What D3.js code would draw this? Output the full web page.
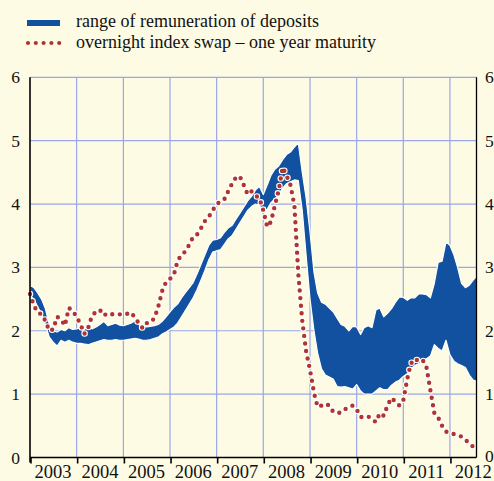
<!DOCTYPE html>
<html>
<head>
<meta charset="utf-8">
<script src="https://cdn.jsdelivr.net/npm/d3@7"></script>
<style>
  body { margin: 0; background: #fdfbe4; }
  svg { display: block; }
</style>
</head>
<body>
<div id="chart"></div>
<script>
// monthly values, first entry = January 2003
const startYear = 2003;
const yearLabels = ['2003', '2004', '2005', '2006', '2007', '2008', '2009', '2010', '2011', '2012'];
const yTicks = [0, 1, 2, 3, 4, 5, 6];

const depositUpper = [
  2.72, 2.68, 2.6, 2.5, 2.35, 2.1, 2.0, 1.98, 2.02, 2.0, 2.05, 2.02,
  2.03, 2.05, 2.02, 2.08, 2.03, 2.06, 2.1, 2.15, 2.08, 2.1, 2.12, 2.09,
  2.08, 2.1, 2.12, 2.16, 2.1, 2.06, 2.06, 2.07, 2.08, 2.1, 2.15, 2.22,
  2.3, 2.37, 2.42, 2.52, 2.6, 2.68, 2.76, 2.9, 3.05, 3.2, 3.35, 3.43,
  3.44, 3.47, 3.55, 3.62, 3.66, 3.76, 3.85, 3.95, 4.05, 4.12, 4.22, 4.28,
  4.15, 4.3, 4.45, 4.55, 4.6, 4.7, 4.78, 4.82, 4.9, 4.97, 4.5, 4.1,
  3.55, 2.92, 2.6, 2.45, 2.42, 2.36, 2.3, 2.2, 2.1, 2.07, 2.0, 2.07,
  2.06, 1.94, 2.05, 2.08, 2.05, 2.33, 2.36, 2.22, 2.28, 2.35, 2.45, 2.53,
  2.53, 2.48, 2.52, 2.52, 2.58, 2.58, 2.57, 2.52, 2.75, 3.08, 3.1, 3.4,
  3.35, 3.2, 3.0, 2.75, 2.68, 2.72, 2.8, 2.87
];

const depositLower = [
  2.55, 2.5, 2.38, 2.27, 2.1, 1.9, 1.82, 1.76, 1.85, 1.82, 1.85, 1.82,
  1.8, 1.8, 1.79, 1.78, 1.8, 1.82, 1.84, 1.86, 1.85, 1.85, 1.86, 1.85,
  1.85, 1.86, 1.87, 1.88, 1.87, 1.85, 1.85, 1.86, 1.88, 1.9, 1.95, 1.98,
  2.02, 2.06, 2.12, 2.22, 2.32, 2.42, 2.52, 2.65, 2.8, 2.95, 3.12, 3.24,
  3.26, 3.28, 3.36, 3.45, 3.5, 3.6, 3.7, 3.8, 3.9, 3.96, 4.0, 3.98,
  3.87, 3.92, 4.02, 4.08, 4.15, 4.25, 4.32, 4.35, 4.38, 4.37, 3.9, 3.2,
  2.5, 2.0, 1.65, 1.4, 1.3, 1.27, 1.24, 1.12, 1.11, 1.12, 1.1, 1.08,
  1.15, 1.05, 1.0, 1.0, 1.0, 1.05, 1.1, 1.07, 1.07, 1.14, 1.19, 1.22,
  1.28, 1.32, 1.4, 1.45, 1.48, 1.52, 1.56, 1.6, 1.78, 1.72, 1.68, 1.85,
  1.62, 1.52, 1.48, 1.45, 1.42, 1.3, 1.22, 1.2
];

const oisOneYear = [
  2.58, 2.4, 2.29, 2.26, 2.16, 2.0, 2.02, 2.22, 2.18, 2.08, 2.36, 2.32,
  2.22, 2.1, 1.95, 2.05, 2.24, 2.3, 2.33, 2.24, 2.28, 2.26, 2.26, 2.26,
  2.25, 2.27, 2.29, 2.21, 2.12, 2.04, 2.12, 2.13, 2.2, 2.38, 2.63, 2.77,
  2.82, 2.89, 3.1, 3.2, 3.25, 3.36, 3.48, 3.52, 3.62, 3.73, 3.8, 3.9,
  4.0, 4.04, 4.07, 4.2, 4.32, 4.42, 4.44, 4.3, 4.15, 4.2, 4.13, 4.1,
  3.9, 3.64, 3.72, 3.98, 4.22, 4.58, 4.45, 4.3, 3.97, 2.9, 2.16, 1.68,
  1.38, 1.02, 0.8, 0.82, 0.85, 0.82, 0.72, 0.7, 0.71, 0.76, 0.8, 0.82,
  0.76, 0.64, 0.64, 0.65, 0.6, 0.56, 0.7, 0.66, 0.83, 0.94, 0.88, 0.82,
  0.9, 1.24, 1.48, 1.56, 1.52, 1.54, 1.43, 1.06, 0.7, 0.63, 0.5, 0.41,
  0.38, 0.37, 0.35, 0.33, 0.28, 0.22, 0.17
];

const legendLabels = ['range of remuneration of deposits', 'overnight index swap \u2013 one year maturity'];

const width = 494;
const height = 481;
const bg = '#fdfbe4';
const blue = '#11519f';
const red = '#b03530';
const grid = '#9aa6e8';
const font = 'Liberation Serif, Times New Roman, DejaVu Serif, serif';

const monthDate = (i) => new Date(startYear, i, 1);

const x = d3.scaleTime()
  .domain([new Date(2003, 0, 1), new Date(2012, 6, 27)])
  .range([30, 476.5]);
const y = d3.scaleLinear().domain([0, 6]).range([457.5, 77.3]);

const svg = d3.select('#chart')
  .append('svg')
  .attr('width', width)
  .attr('height', height)
  .attr('font-family', font);

svg.append('rect').attr('width', width).attr('height', height).attr('fill', bg);

svg.append('clipPath').attr('id', 'plot')
  .append('rect')
  .attr('x', x.range()[0]).attr('y', y(6))
  .attr('width', x.range()[1] - x.range()[0])
  .attr('height', y(0) - y(6));

// grid
const years = yearLabels.map((d) => new Date(+d, 0, 1));
svg.append('g').selectAll('line')
  .data(yTicks.filter((d) => d > 0))
  .join('line')
  .attr('x1', x.range()[0]).attr('x2', x.range()[1])
  .attr('y1', (d) => y(d)).attr('y2', (d) => y(d))
  .attr('stroke', grid).attr('stroke-width', 1.2);
svg.append('g').selectAll('line')
  .data(years.slice(1))
  .join('line')
  .attr('x1', (d) => x(d)).attr('x2', (d) => x(d))
  .attr('y1', y(6)).attr('y2', y(0))
  .attr('stroke', grid).attr('stroke-width', 1.2);

// band
const band = depositUpper.map((u, i) => ({ date: monthDate(i), hi: u, lo: depositLower[i] }));
const area = d3.area()
  .x((d) => x(d.date))
  .y0((d) => y(d.lo))
  .y1((d) => y(d.hi));
svg.append('path')
  .datum(band)
  .attr('clip-path', 'url(#plot)')
  .attr('d', area)
  .attr('fill', blue)
  .attr('stroke', '#ffffff')
  .attr('stroke-width', 1.2)
  .attr('stroke-linejoin', 'round');

// dotted OIS line
const ois = oisOneYear.map((v, i) => ({ date: monthDate(i), v }));
const line = d3.line().x((d) => x(d.date)).y((d) => y(d.v));
const dotDash = '0 7.6';
svg.append('path')
  .datum(ois)
  .attr('d', line)
  .attr('fill', 'none')
  .attr('stroke', '#ffffff')
  .attr('stroke-width', 6.6)
  .attr('stroke-linecap', 'round')
  .attr('stroke-dasharray', dotDash);
svg.append('path')
  .datum(ois)
  .attr('d', line)
  .attr('fill', 'none')
  .attr('stroke', red)
  .attr('stroke-width', 4.4)
  .attr('stroke-linecap', 'round')
  .attr('stroke-dasharray', dotDash);

// axes
const axisG = svg.append('g').attr('stroke', '#000');
axisG.append('line')
  .attr('x1', x.range()[0]).attr('x2', x.range()[0])
  .attr('y1', y(6)).attr('y2', y(0) + 5)
  .attr('stroke-width', 1.6);
axisG.append('line')
  .attr('x1', x.range()[1]).attr('x2', x.range()[1])
  .attr('y1', y(6)).attr('y2', y(0))
  .attr('stroke-width', 1.3);
axisG.append('line')
  .attr('x1', x.range()[0]).attr('x2', x.range()[1])
  .attr('y1', y(0)).attr('y2', y(0))
  .attr('stroke-width', 1.5);
axisG.selectAll('.tick')
  .data(years)
  .join('line')
  .attr('x1', (d) => x(d) + 1).attr('x2', (d) => x(d) + 1)
  .attr('y1', y(0)).attr('y2', y(0) + 6)
  .attr('stroke-width', 1.6);

svg.append('g').selectAll('text')
  .data(yearLabels)
  .join('text')
  .attr('x', (d) => x(new Date(+d, 6, 1)))
  .attr('y', 478)
  .attr('text-anchor', 'middle')
  .attr('font-size', 18.5)
  .attr('fill', '#111')
  .text((d) => d);

svg.append('g').selectAll('text')
  .data(yTicks)
  .join('text')
  .attr('x', 20)
  .attr('y', (d) => y(d) + 6)
  .attr('text-anchor', 'end')
  .attr('font-size', 17.5)
  .attr('fill', '#111')
  .text((d) => d);
svg.append('g').selectAll('text')
  .data(yTicks)
  .join('text')
  .attr('x', 485)
  .attr('y', (d) => y(d) + (d === 0 ? 4 : 6))
  .attr('font-size', 17.5)
  .attr('fill', '#111')
  .text((d) => d);

// legend
const legend = svg.append('g');
legend.append('rect')
  .attr('x', 27).attr('y', 20).attr('width', 33).attr('height', 6)
  .attr('fill', blue);
legend.append('line')
  .attr('x1', 28).attr('x2', 61).attr('y1', 43).attr('y2', 43)
  .attr('stroke', red).attr('stroke-width', 4.2)
  .attr('stroke-linecap', 'round').attr('stroke-dasharray', '0 7.8');
legend.selectAll('text')
  .data(legendLabels)
  .join('text')
  .attr('x', 76)
  .attr('y', (d, i) => 27 + i * 21)
  .attr('font-size', 18)
  .attr('fill', '#111')
  .text((d) => d);
</script>
</body>
</html>
